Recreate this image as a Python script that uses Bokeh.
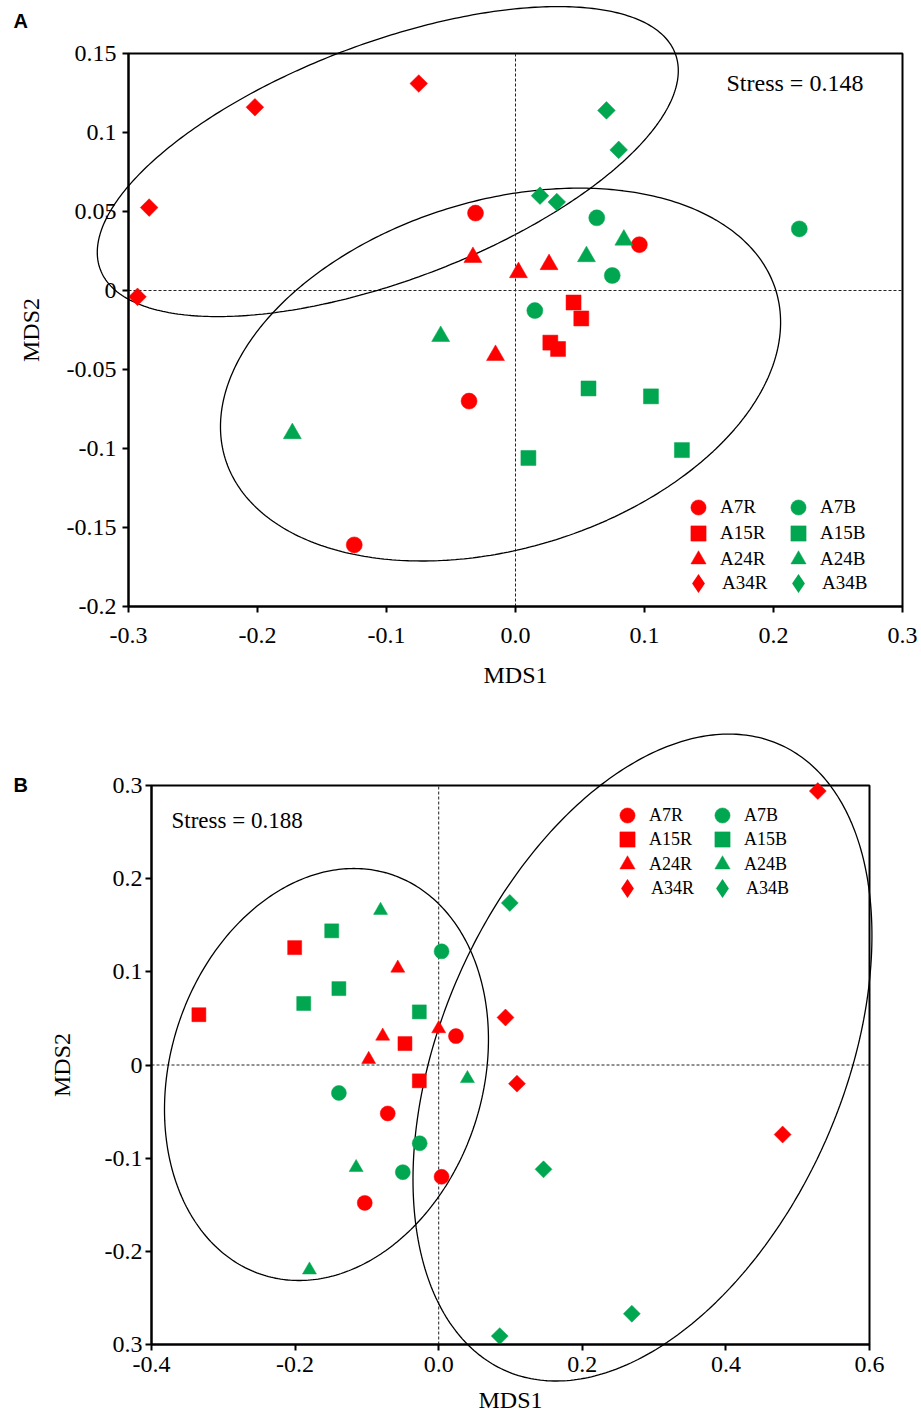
import numpy as np
from bokeh.plotting import figure
from bokeh.models import Range1d, LinearAxis, FixedTicker, Legend, LegendItem, Label
from bokeh.layouts import column
from bokeh.embed import file_html
from bokeh.resources import INLINE

RED = "#FF0000"
GREEN = "#00A650"
SERIF = "Liberation Serif"

groups = ["A7R", "A15R", "A24R", "A34R", "A7B", "A15B", "A24B", "A34B"]

# ---------------- Panel A data ----------------
a_x = {
    "A7R": [-0.031, 0.096, -0.036, -0.125],
    "A15R": [0.045, 0.051, 0.027, 0.033],
    "A24R": [-0.033, 0.0023, 0.026, -0.0155],
    "A34R": [-0.293, -0.284, -0.202, -0.075],
    "A7B": [0.063, 0.220, 0.075, 0.015],
    "A15B": [0.0566, 0.105, 0.010, 0.129],
    "A24B": [0.084, 0.055, -0.058, -0.173],
    "A34B": [0.0705, 0.080, 0.019, 0.032],
}
a_y = {
    "A7R": [0.049, 0.029, -0.070, -0.161],
    "A15R": [-0.0076, -0.0177, -0.033, -0.037],
    "A24R": [0.021, 0.0114, 0.0165, -0.041],
    "A34R": [-0.004, 0.0525, 0.116, 0.131],
    "A7B": [0.046, 0.039, 0.0095, -0.0127],
    "A15B": [-0.062, -0.067, -0.106, -0.101],
    "A24B": [0.032, 0.0215, -0.029, -0.0905],
    "A34B": [0.114, 0.089, 0.060, 0.056],
}
a_xticks = [-0.3, -0.2, -0.1, 0.0, 0.1, 0.2, 0.3]
a_xlabels = ["-0.3", "-0.2", "-0.1", "0.0", "0.1", "0.2", "0.3"]
a_yticks = [-0.2, -0.15, -0.1, -0.05, 0.0, 0.05, 0.1, 0.15]
a_ylabels = ["-0.2", "-0.15", "-0.1", "-0.05", "0", "0.05", "0.1", "0.15"]
# ellipses: centre x, centre y, half-width x, half-height y, coupling
a_ell_cx = [-0.0990, -0.0116]
a_ell_cy = [0.0816, -0.0532]
a_ell_rx = [0.2252, 0.2171]
a_ell_ry = [0.0981, 0.1180]
a_ell_c = [0.586, 0.28]
a_stress = "Stress = 0.148"

# ---------------- Panel B data ----------------
b_x = {
    "A7R": [0.024, -0.071, 0.004, -0.103],
    "A15R": [-0.334, -0.2006, -0.047, -0.027],
    "A24R": [-0.057, 0.0, -0.078, -0.0975],
    "A34R": [0.528, 0.093, 0.109, 0.479],
    "A7B": [0.004, -0.139, -0.0265, -0.050],
    "A15B": [-0.149, -0.139, -0.188, -0.027],
    "A24B": [-0.081, 0.040, -0.115, -0.180],
    "A34B": [0.099, 0.146, 0.269, 0.085],
}
b_y = {
    "A7R": [0.031, -0.052, -0.120, -0.148],
    "A15R": [0.054, 0.126, 0.023, -0.017],
    "A24R": [0.104, 0.039, 0.031, 0.006],
    "A34R": [0.294, 0.051, -0.020, -0.0746],
    "A7B": [0.122, -0.030, -0.084, -0.115],
    "A15B": [0.144, 0.082, 0.066, 0.057],
    "A24B": [0.166, -0.0145, -0.110, -0.220],
    "A34B": [0.174, -0.112, -0.267, -0.291],
}
b_xticks = [-0.4, -0.2, 0.0, 0.2, 0.4, 0.6]
b_xlabels = ["-0.4", "-0.2", "0.0", "0.2", "0.4", "0.6"]
b_yticks = [-0.3, -0.2, -0.1, 0.0, 0.1, 0.2, 0.3]
b_ylabels = ["0.3", "-0.2", "-0.1", "0", "0.1", "0.2", "0.3"]
b_ell_cx = [-0.1563, 0.2838]
b_ell_cy = [-0.0102, 0.0080]
b_ell_rx = [0.2256, 0.3196]
b_ell_ry = [0.2211, 0.3472]
b_ell_c = [0.17, 0.377]
b_stress = "Stress = 0.188"

MARKER = {"A7R": "circle", "A15R": "square", "A24R": "triangle", "A34R": "square",
          "A7B": "circle", "A15B": "square", "A24B": "triangle", "A34B": "square"}
DIAMONDS = ("A34R", "A34B")
COLOR = {g: (RED if g.endswith("R") else GREEN) for g in groups}


def panel(cfg):
    W, H = 921, cfg["height"]
    bx0, bx1, by0, by1 = cfg["box_px"]  # left, right, top, bottom (px)
    xr, yr = cfg["xrange"], cfg["yrange"]
    sx = (bx1 - bx0) / (xr[1] - xr[0])
    sy = (by1 - by0) / (yr[1] - yr[0])
    x_start = xr[0] - bx0 / sx
    x_end = xr[0] + (W - bx0) / sx
    y_end = yr[1] + by0 / sy
    y_start = yr[1] - (H - by0) / sy

    p = figure(width=W, height=H, x_range=Range1d(x_start, x_end), y_range=Range1d(y_start, y_end),
               x_axis_type=None, y_axis_type=None, output_backend="svg", toolbar_location=None,
               min_border=0, min_border_left=0, min_border_right=0, min_border_top=0, min_border_bottom=0)
    p.outline_line_color = None
    p.background_fill_color = "white"
    p.border_fill_color = "white"

    # box
    p.quad(left=[xr[0]], right=[xr[1]], bottom=[yr[0]], top=[yr[1]], fill_color=None,
           line_color="black", line_width=2)
    # zero reference lines
    p.segment(x0=[xr[0], 0.0], y0=[0.0, yr[0]], x1=[xr[1], 0.0], y1=[0.0, yr[1]],
              line_color="#222222", line_width=1, line_dash="3 2")

    # ellipses
    t = np.linspace(0, 2 * np.pi, 400)
    for cx, cy, rx, ry, c in zip(cfg["ecx"], cfg["ecy"], cfg["erx"], cfg["ery"], cfg["ec"]):
        d = np.arccos(c)
        p.line(cx + rx * np.cos(t), cy + ry * np.cos(t - d), line_color="black", line_width=1.3)

    # legend symbols for the diamonds: drawn beneath the rotated squares (hidden by them)
    leg_rend = {}
    for g in DIAMONDS:
        leg_rend[g] = p.scatter(cfg["xs"][g], cfg["ys"][g], marker="diamond",
                                size=cfg["sizes"]["diamond"] * 1.3, fill_color=COLOR[g],
                                line_color=None)

    rend = {}
    for g in groups:
        m = MARKER[g]
        size = cfg["sizes"]["diamond" if g in DIAMONDS else m]
        ang = np.pi / 4 if g in DIAMONDS else 0.0
        rend[g] = p.scatter(cfg["xs"][g], cfg["ys"][g], marker=m, size=size, angle=ang,
                            fill_color=COLOR[g], line_color=COLOR[g], line_width=0.5)
        leg_rend.setdefault(g, rend[g])

    # axes
    xa = LinearAxis(fixed_location=yr[0], bounds=xr, ticker=FixedTicker(ticks=cfg["xticks"]),
                    major_label_overrides=dict(zip(cfg["xticks"], cfg["xlabels"])),
                    axis_label="MDS1")
    ya = LinearAxis(fixed_location=xr[0], bounds=yr, ticker=FixedTicker(ticks=cfg["yticks"]),
                    major_label_overrides=dict(zip(cfg["yticks"], cfg["ylabels"])),
                    axis_label="MDS2")
    for ax in (xa, ya):
        ax.axis_line_width = 2
        ax.major_tick_line_width = 2
        ax.major_tick_out = 6
        ax.major_tick_in = 0
        ax.minor_tick_out = 0
        ax.minor_tick_in = 0
        ax.major_label_text_font = SERIF
        ax.major_label_text_font_size = "24px"
        ax.major_label_text_color = "black"
        ax.axis_label_text_font = SERIF
        ax.axis_label_text_font_size = "24px"
        ax.axis_label_text_font_style = "normal"
        ax.axis_label_text_color = "black"
    xa.major_label_standoff = cfg["x_std"]
    xa.axis_label_standoff = cfg["x_lstd"]
    ya.major_label_standoff = cfg["y_std"]
    ya.axis_label_standoff = cfg["y_lstd"]
    p.add_layout(xa, "below")
    p.add_layout(ya, "left")

    # legend: one small legend per entry, two columns of four rows
    for i, g in enumerate(groups):
        cxp = cfg["leg_cols"][i // 4]
        cyp = cfg["leg_rows"][i % 4]
        gw = 48 if g in DIAMONDS else 44
        gh = 48 if g in DIAMONDS else 38
        leg = Legend(items=[LegendItem(label=g, renderers=[leg_rend[g]])],
                     location=(cxp - gw / 2, H - cyp - gh / 2), orientation="vertical",
                     glyph_width=gw, glyph_height=gh, spacing=0, padding=0, margin=0,
                     label_standoff=0, border_line_color=None, background_fill_alpha=0.0,
                     label_text_font=SERIF, label_text_font_size=cfg["leg_font"],
                     label_text_color="black", label_height=20)
        p.add_layout(leg)

    p.add_layout(Label(x=13, y=cfg["letter_y"], x_units="screen", y_units="screen",
                       text=cfg["letter"], text_font="Liberation Sans", text_font_style="bold",
                       text_font_size="20px", text_baseline="alphabetic", text_color="black"))
    p.add_layout(Label(x=cfg["stress_xy"][0], y=cfg["stress_xy"][1], x_units="screen",
                       y_units="screen", text=cfg["stress"], text_font=SERIF,
                       text_font_size=cfg["stress_font"], text_baseline="alphabetic",
                       text_color="black"))
    return p


cfgA = dict(height=705, box_px=(128, 902, 53, 606), xrange=(-0.3, 0.3), yrange=(-0.2, 0.15),
            xs=a_x, ys=a_y, xticks=a_xticks, xlabels=a_xlabels, yticks=a_yticks, ylabels=a_ylabels,
            ecx=a_ell_cx, ecy=a_ell_cy, erx=a_ell_rx, ery=a_ell_ry, ec=a_ell_c,
            sizes={"circle": 16, "square": 15, "triangle": 18, "diamond": 12.5},
            x_std=15, x_lstd=16, y_std=6, y_lstd=20,
            leg_cols=[698, 798], leg_rows=[507, 533, 559, 583], leg_font="19px",
            letter="A", letter_y=705 - 28 + 8, stress=a_stress, stress_xy=(726, 705 - 90 + 8),
            stress_font="24px")

cfgB = dict(height=708, box_px=(151, 869, 80, 639), xrange=(-0.4, 0.6), yrange=(-0.3, 0.3),
            xs=b_x, ys=b_y, xticks=b_xticks, xlabels=b_xlabels, yticks=b_yticks, ylabels=b_ylabels,
            ecx=b_ell_cx, ecy=b_ell_cy, erx=b_ell_rx, ery=b_ell_ry, ec=b_ell_c,
            sizes={"circle": 15, "square": 14, "triangle": 14, "diamond": 12},
            x_std=6, x_lstd=12, y_std=3, y_lstd=27,
            leg_cols=[627, 722], leg_rows=[110, 134, 159, 183], leg_font="18px",
            letter="B", letter_y=708 - 87 + 8, stress=b_stress, stress_xy=(171, 708 - 123 + 8),
            stress_font="23px")

pA = panel(cfgA)
pB = panel(cfgB)
layout = column(pA, pB, spacing=0)
open("out.html", "w").write(file_html(layout, INLINE))
